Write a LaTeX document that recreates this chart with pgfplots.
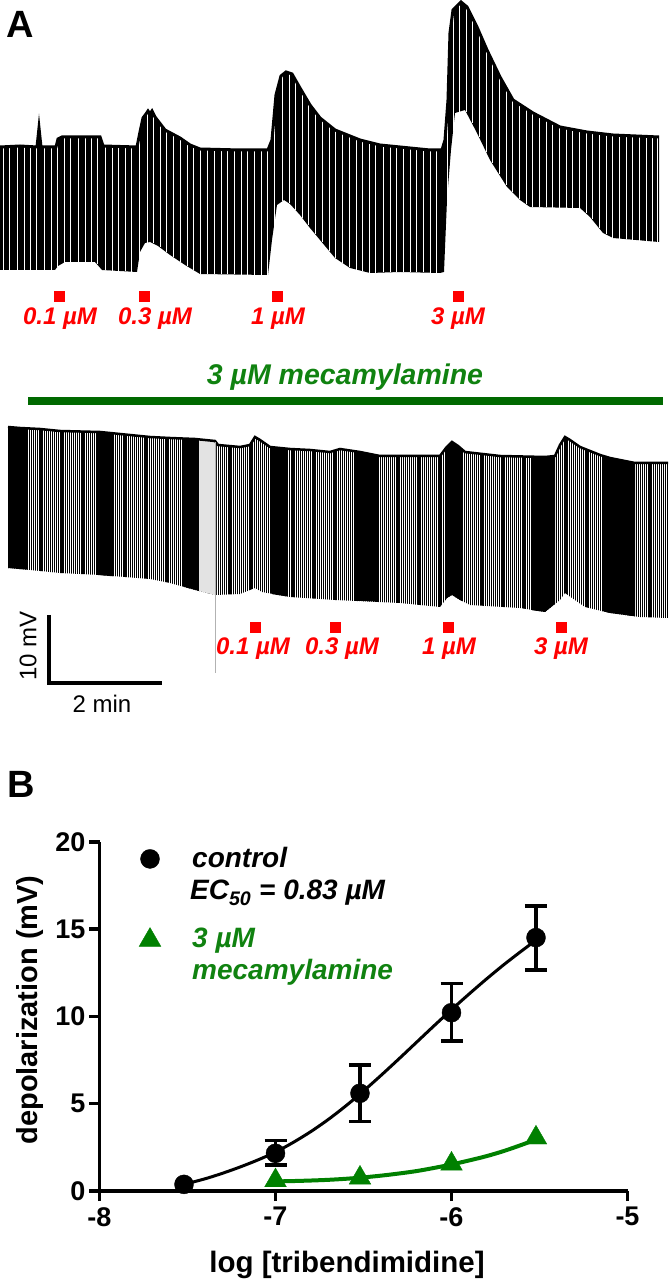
\documentclass[border=0pt]{standalone}
\usepackage{fontspec}
\setmainfont{Liberation Sans}
\usepackage{pgfplots}
\pgfplotsset{compat=1.18}
\usepackage{pgfplotstable}
\usetikzlibrary{patterns.meta}
\newcommand{\fs}[1]{\fontsize{#1bp}{#1bp}\selectfont}
\definecolor{pgreen}{RGB}{0,128,0}
\definecolor{bargreen}{RGB}{0,105,0}
\definecolor{tgreen}{RGB}{16,130,16}
\definecolor{pred}{RGB}{255,0,0}

% ---------- panel A traces (pixel units: x right, y down) ----------
% top trace: upper envelope
\pgfplotstableread{
x y
0 147
20 146
37 147
39 128
41 147
56 147
58 139
62 137
100 137
103 146
137 147
140 132
143 118
146 114
148 111
150 114
152 111
155 117
165 130
180 138
190 145
200 149
240 150
268 150
272 140
276 95
281 76
286 72
292 74
300 88
310 105
320 118
335 130
360 140
380 145
400 147
430 150
442 150
445 140
448 100
450 33
453 10
461 2
467 7
477 27
487 50
500 77
513 100
533 113
560 127
587 132
613 135
659 137
}\TopU
% top trace: envelope polygon (upper, then lower from right to left)
\pgfplotstableread{
x y
0 147
20 146
37 147
39 128
41 147
56 147
58 139
62 137
100 137
103 146
137 147
140 132
143 118
146 114
148 111
150 114
152 111
155 117
165 130
180 138
190 145
200 149
240 150
268 150
272 140
276 95
281 76
286 72
292 74
300 88
310 105
320 118
335 130
360 140
380 145
400 147
430 150
442 150
445 140
448 100
450 33
453 10
461 2
467 7
477 27
487 50
500 77
513 100
533 113
560 127
587 132
613 135
659 137
659 242
613 238
603 233
590 217
580 208
530 207
520 200
507 187
490 160
477 133
465 110
455 113
451 150
447 200
444 272
440 273
400 272
370 273
350 268
335 258
320 240
310 228
300 215
290 204
284 200
277 205
272 240
268 275
200 274
185 265
170 255
158 246
150 242
145 243
140 252
137 272
102 270
95 262
65 262
58 266
55 270
0 270
}\TopPoly
% top trace: gaps between sweeps (x, foot of the gap)
\pgfplotstableread{
x y
3 270
9 270
17 270
24 270
30 270
36 270
44 270
51 270
57 267
64 263
70 262
78 262
85 262
91 262
97 264
105 270
112 271
118 271
125 271
131 272
139 259
147 243
153 243
160 247
166 252
173 257
180 262
187 266
193 270
200 274
207 274
214 274
221 274
227 274
234 274
241 275
247 275
254 275
261 275
267 275
274 226
282 201
289 203
295 210
302 218
308 225
315 234
322 242
329 251
335 258
342 263
349 267
356 270
362 271
369 273
375 273
383 272
390 272
396 272
403 272
410 272
416 272
423 272
430 273
436 273
447 200
453 131
459 112
466 112
472 123
479 137
486 152
492 163
499 174
506 185
512 192
519 199
526 204
532 207
539 207
546 207
552 208
559 208
566 208
572 208
579 208
586 213
592 219
599 228
606 234
612 238
619 239
626 239
632 240
639 241
646 241
652 242
657 242
}\TopGaps
% bottom trace: upper envelope
\pgfplotstableread{
x y
8 427
20 428
40 429
60 431
100 432
120 434
150 437
170 438
195 439
215 441
218 445
240 447
250 445
255 437
260 440
270 447
290 449
310 450
330 452
340 449
360 452
380 456
440 456
446 448
452 442
458 446
465 452
500 456
545 457
555 456
560 445
565 437
570 440
580 447
600 455
610 458
635 463
668 463
}\BotU
% bottom trace: envelope polygon
\pgfplotstableread{
x y
8 427
20 428
40 429
60 431
100 432
120 434
150 437
170 438
195 439
215 441
218 445
240 447
250 445
255 437
260 440
270 447
290 449
310 450
330 452
340 449
360 452
380 456
440 456
446 448
452 442
458 446
465 452
500 456
545 457
555 456
560 445
565 437
570 440
580 447
600 455
610 458
635 463
668 463
668 618
640 617
610 613
585 607
572 598
565 593
560 600
545 612
520 608
470 605
460 600
452 595
447 598
440 607
400 603
335 600
290 597
262 592
255 588
250 590
240 594
215 595
195 590
170 583
150 579
100 575
60 573
30 570
8 568
}\BotPoly

\begin{document}
\begin{tikzpicture}
\path[use as bounding box] (0,0) rectangle (670bp,1283bp);

% ================= Panel A =================
\begin{axis}[at={(0bp,1283bp)}, anchor=north west, scale only axis,
  width=670bp, height=730bp, xmin=0, xmax=670, ymin=0, ymax=730,
  y dir=reverse, hide axis, clip=false]
  % top trace: dense sweeps (black with thin white gaps)
  \addplot[draw=none, fill=black] table {\TopPoly};
  \addplot[white, line width=0.6bp, ycomb] table {\TopGaps};
  \addplot[black, line width=3bp] table {\TopU};
  % bottom trace (striped, with dense solid stretches)
  \addplot[draw=none, pattern={Lines[angle=90,distance=2.1bp,line width=1.2bp]}, pattern color=black] table {\BotPoly};
  \addplot[draw=none, fill=black] coordinates {(8,427) (27,428.4) (27,569.7) (8,568)};
  \addplot[draw=none, fill=black] coordinates {(97,431.9) (113,433.3) (113,576.3) (97,574.9)};
  \addplot[draw=none, fill=black] coordinates {(183,438.5) (199,439.4) (199,591) (183,586.6)};
  \addplot[draw=none, fill=black] coordinates {(272,447.2) (287,448.7) (287,596.5) (272,594.1)};
  \addplot[draw=none, fill=black] coordinates {(358,451.8) (375,455) (375,601.6) (358,600.8)};
  \addplot[draw=none, fill=black] coordinates {(445,449.3) (446,448) (452,442) (458,446) (462,449.4) (462,601) (460,600) (452,595) (447,598) (445,600.6)};
  \addplot[draw=none, fill=black] coordinates {(532,456.7) (545,457) (555,456) (555,604) (545,612) (532,610.2)};
  \addplot[draw=none, fill=black] coordinates {(602,455.6) (610,458) (635,463) (635,616.3) (610,613) (602,611)};
  \addplot[draw=none, fill=gray!22] coordinates {(199,439.4) (215,441) (216,442) (216,595) (215,595) (199,591)};
  \addplot[black, line width=2.5bp] table {\BotU};
  % gray artefact line
  \addplot[gray!60, line width=0.8bp] coordinates {(215,442) (215,673)};
  % application marks
  \addplot[only marks, mark=square*, mark size=5bp, color=pred] coordinates {(59,296) (144,296) (277,296) (458,296)};
  \addplot[only marks, mark=square*, mark size=5bp, color=pred] coordinates {(255,627) (335,627) (448,627) (561,627)};
  % mecamylamine bar
  \addplot[bargreen, line width=8bp] coordinates {(28,401) (663,401)};
  % scale bar
  \addplot[black, line width=3.5bp] coordinates {(49,615) (49,683) (162,683)};
\end{axis}

% ================= Panel B =================
\begin{axis}[at={(99.5bp,92bp)}, anchor=south west, scale only axis,
  width=528bp, height=349bp, xmin=-8, xmax=-5, ymin=0, ymax=20,
  enlargelimits=false, clip=false,
  axis x line=bottom, axis y line=left,
  axis line style={line width=3.5bp, -},
  xtick={-8,-7,-6,-5}, xticklabels={-8,-7,-6,-5},
  ytick={0,5,10,15,20}, yticklabels={0,5,10,15,20},
  tick align=outside, major tick length=10bp,
  every tick/.style={black, line width=3.5bp},
  ticklabel style={font=\fs{27}\bfseries},
  xticklabel style={inner sep=0pt, yshift=-6bp},
  yticklabel style={inner sep=0pt, xshift=-4bp}]
  % fitted curves
  \addplot[black, line width=3bp, smooth] coordinates {
    (-7.52,0.38) (-7.4,0.70) (-7.3,1.02) (-7.2,1.38) (-7.1,1.78) (-7.0,2.23)
    (-6.9,2.78) (-6.8,3.40) (-6.7,4.10) (-6.6,4.88) (-6.5,5.73) (-6.4,6.63)
    (-6.3,7.56) (-6.2,8.51) (-6.1,9.46) (-6.0,10.39) (-5.9,11.29) (-5.8,12.16)
    (-5.7,12.99) (-5.6,13.77) (-5.52,14.37)};
  \addplot[pgreen, line width=4bp, smooth] coordinates {
    (-7,0.55) (-6.9,0.57) (-6.8,0.6) (-6.7,0.64) (-6.6,0.7) (-6.5,0.78)
    (-6.4,0.88) (-6.3,1.0) (-6.2,1.14) (-6.1,1.32) (-6.0,1.52) (-5.9,1.75)
    (-5.8,2.0) (-5.7,2.3) (-5.6,2.65) (-5.52,2.95)};
  % control data with SEM
  \addplot[black, only marks, mark=*, mark size=9.5bp,
    error bars/.cd, y dir=both, y explicit,
    error bar style={line width=3.5bp},
    error mark options={rotate=90, black, mark size=11bp, line width=3.5bp}]
    coordinates {
    (-7.52,0.38)
    (-7,2.16) += (0,0.72) -= (0,0.67)
    (-6.52,5.6) += (0,1.62) -= (0,1.63)
    (-6,10.22) += (0,1.68) -= (0,1.61)
    (-5.52,14.52) += (0,1.81) -= (0,1.86)};
  % mecamylamine data
  \addplot[pgreen, only marks, mark=triangle*, mark size=12.5bp]
    coordinates {(-7,0.6) (-6.52,0.75) (-6,1.55) (-5.52,3.05)};
  % legend symbols
  \addplot[black, only marks, mark=*, mark size=9.5bp] coordinates {(-7.713,19.03)};
  \addplot[pgreen, only marks, mark=triangle*, mark size=12.5bp] coordinates {(-7.713,14.38)};
\end{axis}

% ================= Text (pixel coordinates) =================
\begin{scope}[shift={(0bp,1283bp)}, x=1bp, y=-1bp]
  \node[anchor=base west, inner sep=0pt] at (6,38) {\fs{38}\bfseries A};
  \node[anchor=base west, inner sep=0pt] at (7,798) {\fs{38}\bfseries B};
  \begin{scope}[every node/.style={anchor=base, inner sep=0pt, text=pred, font=\fs{24}\bfseries\itshape}]
    \node at (60,325) {0.1 µM};
    \node at (155,325) {0.3 µM};
    \node at (278,325) {1 µM};
    \node at (458,325) {3 µM};
    \node at (253,655) {0.1 µM};
    \node at (342,655) {0.3 µM};
    \node at (449,655) {1 µM};
    \node at (561,655) {3 µM};
  \end{scope}
  \node[anchor=base, inner sep=0pt, text=tgreen] at (345,385) {\fs{28.5}\bfseries\itshape 3 µM mecamylamine};
  \node[rotate=90, inner sep=0pt] at (28,646) {\fs{24}10 mV};
  \node[anchor=base, inner sep=0pt] at (102,713) {\fs{24}2 min};
  \node[anchor=base west, inner sep=0pt] at (192,868) {\fs{28}\bfseries\itshape control};
  \node[anchor=base west, inner sep=0pt] at (190,900) {\fs{28}\bfseries\itshape EC\textsubscript{50} = 0.83 µM};
  \node[anchor=base west, inner sep=0pt, text=tgreen] at (192,948) {\fs{28}\bfseries\itshape 3 µM};
  \node[anchor=base west, inner sep=0pt, text=tgreen] at (192,980) {\fs{28}\bfseries\itshape mecamylamine};
  \node[inner sep=0pt] at (347,1265) {\fs{29.5}\bfseries log [tribendimidine]};
  \node[rotate=90, inner sep=0pt] at (30,1010) {\fs{29}\bfseries depolarization (mV)};
\end{scope}
\end{tikzpicture}
\end{document}
